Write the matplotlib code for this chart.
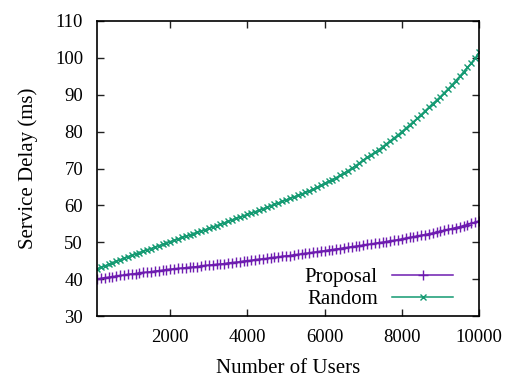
import matplotlib
matplotlib.use("Agg")
import matplotlib.pyplot as plt
from matplotlib.ticker import FixedLocator

users = list(range(100, 10001, 100))

proposal = [
    40.0, 40.2, 40.4, 40.5, 40.7, 40.8, 41.0, 41.1, 41.3, 41.4,
    41.5, 41.7, 41.8, 41.9, 42.0, 42.2, 42.3, 42.4, 42.6, 42.7,
    42.8, 42.9, 43.0, 43.1, 43.2, 43.3, 43.4, 43.6, 43.7, 43.8,
    43.9, 44.0, 44.1, 44.2, 44.4, 44.5, 44.6, 44.7, 44.9, 45.0,
    45.1, 45.3, 45.4, 45.5, 45.6, 45.8, 45.9, 46.0, 46.2, 46.3,
    46.4, 46.6, 46.7, 46.8, 47.0, 47.1, 47.3, 47.4, 47.6, 47.7,
    47.9, 48.0, 48.2, 48.3, 48.5, 48.6, 48.8, 48.9, 49.1, 49.2,
    49.4, 49.5, 49.7, 49.9, 50.0, 50.2, 50.4, 50.5, 50.7, 50.9,
    51.1, 51.3, 51.5, 51.7, 51.9, 52.1, 52.3, 52.5, 52.7, 53.0,
    53.2, 53.5, 53.7, 54.0, 54.2, 54.5, 54.8, 55.1, 55.4, 55.8,
]

random_ = [
    42.8, 43.2, 43.6, 44.0, 44.4, 44.9, 45.3, 45.7, 46.1, 46.5,
    46.9, 47.2, 47.6, 48.0, 48.3, 48.7, 49.1, 49.4, 49.8, 50.2,
    50.5, 50.9, 51.3, 51.6, 52.0, 52.3, 52.7, 53.1, 53.4, 53.8,
    54.2, 54.5, 54.9, 55.3, 55.7, 56.1, 56.5, 56.8, 57.2, 57.6,
    58.0, 58.3, 58.7, 59.1, 59.5, 59.9, 60.3, 60.7, 61.1, 61.5,
    61.9, 62.3, 62.7, 63.1, 63.5, 63.9, 64.4, 64.9, 65.4, 66.0,
    66.5, 67.0, 67.55, 68.15, 68.75, 69.4, 70.05, 70.75, 71.5, 72.3,
    73.0, 73.7, 74.4, 75.1, 75.9, 76.7, 77.5, 78.3, 79.1, 80.0,
    80.9, 81.8, 82.7, 83.6, 84.6, 85.6, 86.6, 87.6, 88.5, 89.5,
    90.55, 91.6, 92.7, 93.85, 95.0, 96.2, 97.4, 98.6, 99.9, 101.5,
]

x_ticks = [2000, 4000, 6000, 8000, 10000]
y_ticks = [30, 40, 50, 60, 70, 80, 90, 100, 110]

plt.rcParams['font.family'] = ['Liberation Serif', 'DejaVu Serif']
plt.rcParams['font.size'] = 13.5

fig = plt.figure(figsize=(5.11, 3.79), dpi=100)
ax = fig.add_axes([0.1898, 0.1662, 0.9374 - 0.1898, 0.9446 - 0.1662])

purple = '#6E1CB0'
green = '#149A72'

ax.plot(users, proposal, color=purple, lw=1.1, marker='+', ms=6.5, mew=1.0,
        label='Proposal')
ax.plot(users, random_, color=green, lw=1.1, marker='x', ms=4.8, mew=1.0,
        label='Random')

ax.set_xlim(100, 10000)
ax.set_ylim(30, 110)
ax.xaxis.set_major_locator(FixedLocator(x_ticks))
ax.yaxis.set_major_locator(FixedLocator(y_ticks))
ax.tick_params(direction='in', length=5, width=1, top=True, right=True,
               labelsize=13.5, color='#222222')
ax.tick_params(axis='y', pad=10)
ax.tick_params(axis='x', pad=9)
for s in ax.spines.values():
    s.set_linewidth(1.2)

ax.set_xlabel('Number of Users', fontsize=15, labelpad=10)
ax.set_ylabel('Service Delay (ms)', fontsize=15, labelpad=12)

leg = ax.legend(loc='lower right', bbox_to_anchor=(0.953, -0.005),
                frameon=False, markerfirst=False, fontsize=15,
                handlelength=2.9, numpoints=1, borderaxespad=0.0,
                borderpad=0.4, labelspacing=0.1, handletextpad=0.7)
for t in leg.get_texts():
    t.set_ha('right')

fig.savefig('out.png', dpi=100)
